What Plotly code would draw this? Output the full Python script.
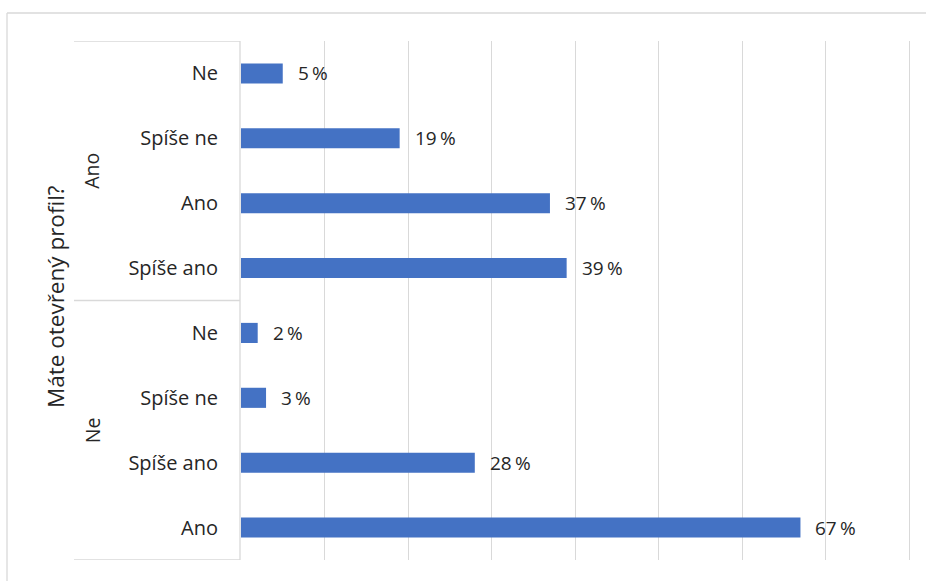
import plotly.graph_objects as go

# Survey answers, grouped by "Máte otevřený profil?"
groups = ["Ano", "Ne"]
group_answers = [
    ["Ne", "Spíše ne", "Ano", "Spíše ano"],
    ["Ne", "Spíše ne", "Spíše ano", "Ano"],
]
group_values = [
    [5, 19, 37, 39],
    [2, 3, 28, 67],
]
axis_title = "Máte otevřený profil?"

answers = [a for g in group_answers for a in g]
values = [v for g in group_values for v in g]
positions = list(range(len(answers)))

W, H = 926, 581
L, R, T, B = 241, 911, 41, 560   # plot area in pixels
X_MAX = 80.24                    # small headroom so the 80 gridline shows
FONT = "Open Sans"
TEXT = "#262626"
LINE = "#d9d9d9"
BLUE = "#4472C4"


def px_x(px):
    return (px - L) / (R - L)


def px_y(py):
    return (B - py) / (B - T)


fig = go.Figure(
    go.Bar(
        x=values,
        y=positions,
        orientation="h",
        marker=dict(color=BLUE, line=dict(width=0)),
        hoverinfo="skip",
    )
)

# value labels to the right of each bar
annotations = []
for p, v in zip(positions, values):
    annotations.append(dict(
        x=v, y=p, xref="x", yref="y", text=f"{v}\u2009%", showarrow=False,
        xanchor="left", yanchor="middle", xshift=13,
        font=dict(family=FONT, size=19, color=TEXT),
    ))

# group labels (rotated) centred on their rows
start = 0
shapes = []
for g, ans in zip(groups, group_answers):
    n = len(ans)
    centre = start + (n - 1) / 2
    annotations.append(dict(
        x=px_x(92), y=centre, xref="paper", yref="y", text=g, showarrow=False,
        textangle=-90, xanchor="center", yanchor="middle",
        font=dict(family=FONT, size=19.5, color=TEXT),
    ))
    start += n

# axis title
annotations.append(dict(
    x=px_x(55), y=px_y(297), xref="paper", yref="paper", text=axis_title,
    showarrow=False, textangle=-90, xanchor="center", yanchor="middle",
    font=dict(family=FONT, size=22.5, color=TEXT),
))

# group separator lines in the category area
bounds = [-0.5]
acc = 0
for ans in group_answers:
    acc += len(ans)
    bounds.append(acc - 0.5)
for b in bounds:
    shapes.append(dict(
        type="line", xref="paper", yref="y", x0=px_x(74), x1=px_x(240),
        y0=b, y1=b, line=dict(color=LINE, width=1.3), layer="above",
    ))
# category axis line
shapes.append(dict(
    type="line", xref="paper", yref="paper", x0=px_x(240), x1=px_x(240),
    y0=0, y1=1, line=dict(color=LINE, width=1.3),
))
# outer chart frame
shapes.append(dict(
    type="line", xref="paper", yref="paper", x0=px_x(7), x1=px_x(W + 5),
    y0=px_y(13), y1=px_y(13), line=dict(color=LINE, width=1.3),
))
shapes.append(dict(
    type="line", xref="paper", yref="paper", x0=px_x(7), x1=px_x(7),
    y0=px_y(13), y1=px_y(H + 5), line=dict(color=LINE, width=1.3),
))

fig.update_layout(
    width=W, height=H,
    margin=dict(l=L, r=W - R, t=T, b=H - B, pad=0),
    paper_bgcolor="white", plot_bgcolor="white",
    bargap=0.69,
    showlegend=False,
    annotations=annotations,
    shapes=shapes,
    xaxis=dict(
        range=[0, X_MAX], dtick=10, showgrid=True, gridcolor=LINE, gridwidth=1.3,
        showticklabels=False, zeroline=False, showline=False, fixedrange=True,
    ),
    yaxis=dict(
        tickmode="array", tickvals=positions, ticktext=answers,
        range=[len(answers) - 0.5, -0.5], showgrid=False, zeroline=False,
        showline=False, ticks="", ticklabelstandoff=22,
        tickfont=dict(family=FONT, size=20, color=TEXT), fixedrange=True,
    ),
)

fig.write_html("out.html")
